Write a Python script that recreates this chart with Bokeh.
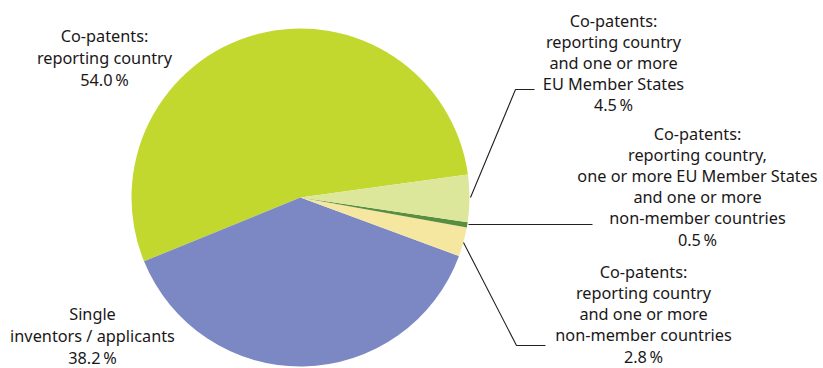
import math
from bokeh.plotting import figure
from bokeh.models import Range1d, ColumnDataSource
from bokeh.core.properties import value
from bokeh.embed import file_html
from bokeh.resources import INLINE

# ---- data ----
categories = [
    "Co-patents: reporting country",
    "Single inventors / applicants",
    "Co-patents: reporting country and one or more non-member countries",
    "Co-patents: reporting country, one or more EU Member States and one or more non-member countries",
    "Co-patents: reporting country and one or more EU Member States",
]
shares = [54.0, 38.2, 2.8, 0.5, 4.5]
colors = ["#C2D82F", "#7B88C3", "#F5E6A0", "#5A8E3F", "#DDE79C"]
label_lines = [
    ["Co-patents:", "reporting country", "54.0\u2009%"],
    ["Single", "inventors / applicants", "38.2\u2009%"],
    ["Co-patents:", "reporting country", "and one or more", "non-member countries", "2.8\u2009%"],
    ["Co-patents:", "reporting country,", "one or more EU Member States", "and one or more",
     "non-member countries", "0.5\u2009%"],
    ["Co-patents:", "reporting country", "and one or more", "EU Member States", "4.5\u2009%"],
]

# ---- layout (pixel-like coordinates, y measured from top) ----
W, H = 823, 368
CX, CY, R = 300, 197, 169
START_DEG = 7.8

def Y(py):
    return H - py

p = figure(width=W, height=H, output_backend="svg", toolbar_location=None,
           x_range=Range1d(0, W), y_range=Range1d(0, H), min_border=0)
p.axis.visible = False
p.grid.visible = False
p.outline_line_color = None
p.background_fill_color = "white"
p.border_fill_color = "white"

total = sum(shares)
starts, ends = [], []
a = math.radians(START_DEG)
for s in shares:
    starts.append(a)
    a += 2 * math.pi * s / total
    ends.append(a)

src = ColumnDataSource(dict(start=starts, end=ends, color=colors, cat=categories))
p.wedge(x=CX, y=Y(CY), radius=R, start_angle="start", end_angle="end",
        fill_color="color", line_color=None, source=src)

# leader lines (pixel layout)
leaders = [
    ([470, 515, 534], [197, 89, 89]),
    ([468, 592], [224, 224]),
    ([463, 516, 545], [242, 345, 345]),
]
for xs, ys in leaders:
    p.line(xs, [Y(v) for v in ys], line_color="#231F20", line_width=1.1)

# label anchors: center x, first line middle y, line spacing
anchors = [
    (104, 35, 22),
    (92, 313, 22),
    (643, 271, 21.25),
    (697, 133, 21.2),
    (613, 20, 21),
]
for lines, (ax, ay, dy) in zip(label_lines, anchors):
    xs = [ax] * len(lines)
    ys = [Y(ay + i * dy) for i in range(len(lines))]
    p.text(x=xs, y=ys, text=lines, text_align="center", text_baseline="middle",
           text_font=value("Noto Sans"), text_font_size="16.3px", text_color="#1A1718")

open("out.html", "w").write(file_html(p, INLINE))
